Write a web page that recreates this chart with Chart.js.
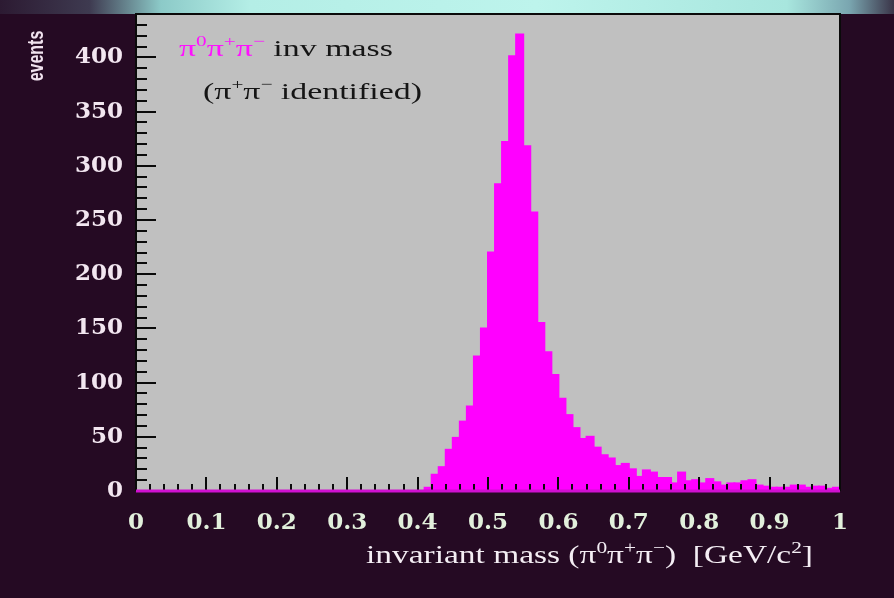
<!DOCTYPE html>
<html>
<head>
<meta charset="utf-8">
<script src="https://cdn.jsdelivr.net/npm/chart.js@4"></script>
<style>
html,body{margin:0;padding:0;background:#250a23;}
#wrap{width:894px;height:598px;position:relative;}
canvas{display:block;}
</style>
</head>
<body>
<div id="wrap"><canvas id="c" width="894" height="598"></canvas></div>
<script>
// ---- data ----
const massBins = [
  0.005,0.015,0.025,0.035,0.045,0.055,0.065,0.075,0.085,0.095,
  0.105,0.115,0.125,0.135,0.145,0.155,0.165,0.175,0.185,0.195,
  0.205,0.215,0.225,0.235,0.245,0.255,0.265,0.275,0.285,0.295,
  0.305,0.315,0.325,0.335,0.345,0.355,0.365,0.375,0.385,0.395,
  0.405,0.415,0.425,0.435,0.445,0.455,0.465,0.475,0.485,0.495,
  0.505,0.515,0.525,0.535,0.545,0.555,0.565,0.575,0.585,0.595,
  0.605,0.615,0.625,0.635,0.645,0.655,0.665,0.675,0.685,0.695,
  0.705,0.715,0.725,0.735,0.745,0.755,0.765,0.775,0.785,0.795,
  0.805,0.815,0.825,0.835,0.845,0.855,0.865,0.875,0.885,0.895,
  0.905,0.915,0.925,0.935,0.945,0.955,0.965,0.975,0.985,0.995
];
const events = [
  0,0,0,0,0,0,0,0,0,0,
  0,0,0,0,0,0,0,0,0,0,
  0,0,0,0,0,0,0,0,0,0,
  0,0,0,0,0,0,0,0,0,0,
  0,3,15,22,38,49,64,78,124,150,
  220,283,322,401,421,318,257,155,128,107,
  85,70,58,48,50,40,33,30,23,25,
  20,13,19,17,12,12,7,17,9,10,
  7,11,8,5,7,7,9,10,5,4,
  3,3,3,5,5,3,4,4,2,3
];
const xTickValues = [0,0.1,0.2,0.3,0.4,0.5,0.6,0.7,0.8,0.9,1];
const xTickLabels = ['0','0.1','0.2','0.3','0.4','0.5','0.6','0.7','0.8','0.9','1'];
const yTickValues = [0,50,100,150,200,250,300,350,400];
const yTickLabels = ['0','50','100','150','200','250','300','350','400'];
const yAxisTitle = 'events';
const annotLine1 = [
  {t:'\u03c0', c:'#ff10ff'}, {t:'0', c:'#ff10ff', sup:true},
  {t:'\u03c0', c:'#ff10ff'}, {t:'+', c:'#ff10ff', sup:true},
  {t:'\u03c0', c:'#ff10ff'}, {t:'\u2212', c:'#ff10ff', sup:true},
  {t:' inv mass', c:'#151515'}
];
const annotLine2 = [
  {t:'(\u03c0', c:'#151515'}, {t:'+', c:'#151515', sup:true},
  {t:'\u03c0', c:'#151515'}, {t:'\u2212', c:'#151515', sup:true},
  {t:' identified)', c:'#151515'}
];
const xAxisTitle = [
  {t:'invariant mass (\u03c0', c:'#f4eef4'}, {t:'0', c:'#f4eef4', sup:true},
  {t:'\u03c0', c:'#f4eef4'}, {t:'+', c:'#f4eef4', sup:true},
  {t:'\u03c0', c:'#f4eef4'}, {t:'\u2212', c:'#f4eef4', sup:true},
  {t:')  [GeV/c', c:'#f4eef4'}, {t:'2', c:'#f4eef4', sup:true},
  {t:']', c:'#f4eef4'}
];

function drawRich(ctx, segs, x, baseline, size, family, targetWidth) {
  let w = 0;
  const supSize = Math.round(size * 0.62);
  for (const s of segs) {
    ctx.font = (s.sup ? supSize : size) + 'px ' + family;
    s.w = ctx.measureText(s.t).width;
    w += s.w;
  }
  const sx = targetWidth / w;
  ctx.save();
  ctx.translate(x, baseline);
  ctx.scale(sx, 1);
  ctx.textAlign = 'left';
  ctx.textBaseline = 'alphabetic';
  let cx = 0;
  for (const s of segs) {
    ctx.font = (s.sup ? supSize : size) + 'px ' + family;
    ctx.fillStyle = s.c;
    ctx.fillText(s.t, cx, s.sup ? -size * 0.42 : 0);
    cx += s.w;
  }
  ctx.restore();
}

const bgPlugin = {
  id: 'bg',
  beforeDraw(chart) {
    const {ctx, width, height, chartArea: a} = chart;
    ctx.save();
    ctx.fillStyle = '#250a23';
    ctx.fillRect(0, 0, width, height);
    const g = ctx.createLinearGradient(0, 0, width, 0);
    g.addColorStop(0, '#2c1a32');
    g.addColorStop(0.1, '#3e3a50');
    g.addColorStop(0.18, '#8ccac8');
    g.addColorStop(0.28, '#b4eee6');
    g.addColorStop(0.6, '#bdf4ec');
    g.addColorStop(0.88, '#a8e6de');
    g.addColorStop(0.95, '#7aa6b0');
    g.addColorStop(1, '#3a3448');
    ctx.fillStyle = g;
    ctx.fillRect(0, 0, width, a.top);
    ctx.fillStyle = '#c0c0c0';
    ctx.fillRect(a.left, a.top, a.right - a.left, a.bottom - a.top);
    ctx.restore();
  }
};

const framePlugin = {
  id: 'frame',
  afterDatasetsDraw(chart) {
    const {ctx, chartArea: a, scales} = chart;
    const xs = scales.x, ys = scales.y;
    ctx.save();
    ctx.strokeStyle = '#0a0a0a';
    ctx.lineWidth = 2;
    ctx.beginPath();
    // y ticks: minor every 10, major every 50
    for (let k = 0; k <= 44; k++) {
      const py = Math.round(ys.getPixelForValue(k * 10));
      const len = (k % 5 === 0) ? 20 : 11;
      ctx.moveTo(a.left, py);
      ctx.lineTo(a.left + len, py);
    }
    // x ticks: minor every 0.02, major every 0.1
    for (let k = 0; k <= 50; k++) {
      const px = Math.round(xs.getPixelForValue(k * 0.02));
      const len = (k % 5 === 0) ? 14 : 7;
      ctx.moveTo(px, a.bottom);
      ctx.lineTo(px, a.bottom - len);
    }
    ctx.stroke();
    // frame
    ctx.beginPath();
    ctx.moveTo(a.left, a.bottom);
    ctx.lineTo(a.left, a.top);
    ctx.lineTo(a.right, a.top);
    ctx.lineTo(a.right, a.bottom);
    ctx.stroke();
    // baseline
    ctx.strokeStyle = '#d010d0';
    ctx.lineWidth = 3;
    ctx.beginPath();
    ctx.moveTo(a.left, a.bottom);
    ctx.lineTo(a.right, a.bottom);
    ctx.stroke();
    ctx.restore();
  },
  afterDraw(chart) {
    const {ctx} = chart;
    ctx.save();
    drawRich(ctx, annotLine1, 179, 56, 24, '"Liberation Serif", serif', 214);
    drawRich(ctx, annotLine2, 203, 99, 24, '"Liberation Serif", serif', 219);
    drawRich(ctx, xAxisTitle, 366, 563, 25, '"Liberation Serif", serif', 447);
    ctx.translate(37, 56);
    ctx.rotate(-Math.PI / 2);
    ctx.scale(1, 1.35);
    ctx.font = 'bold 16px "Liberation Sans", sans-serif';
    ctx.fillStyle = '#f0e2ee';
    ctx.textAlign = 'center';
    ctx.textBaseline = 'middle';
    ctx.fillText(yAxisTitle, 0, 0);
    ctx.restore();
  }
};

const tickFont = {family: '"DejaVu Serif", serif', size: 23, weight: 'bold'};

new Chart(document.getElementById('c'), {
  type: 'bar',
  data: {
    datasets: [{
      data: massBins.map((m, i) => ({x: m, y: events[i]})),
      backgroundColor: '#ff00ff',
      borderWidth: 0,
      inflateAmount: 1,
      barPercentage: 1,
      categoryPercentage: 1
    }]
  },
  options: {
    responsive: false,
    animation: false,
    devicePixelRatio: 1,
    layout: {padding: {top: 14, right: 54, left: 0, bottom: 0}},
    plugins: {legend: {display: false}, tooltip: {enabled: false}},
    scales: {
      x: {
        type: 'linear', min: 0, max: 1, offset: false,
        grid: {display: false, drawTicks: false},
        border: {display: false},
        afterBuildTicks: s => { s.ticks = xTickValues.map(v => ({value: v})); },
        afterFit: s => { s.height = 107; s.paddingLeft = 0; s.paddingRight = 0; },
        ticks: {
          autoSkip: false, maxRotation: 0, padding: 18,
          color: '#e2f0dc', font: tickFont,
          callback: (v, i) => xTickLabels[i]
        }
      },
      y: {
        min: 0, max: 440,
        grid: {display: false, drawTicks: false},
        border: {display: false},
        afterBuildTicks: s => { s.ticks = yTickValues.map(v => ({value: v})); },
        afterFit: s => { s.width = 136; s.paddingTop = 0; s.paddingBottom = 0; },
        ticks: {
          padding: 13, color: '#f2e6f0', font: tickFont,
          callback: (v, i) => yTickLabels[i]
        }
      }
    }
  },
  plugins: [bgPlugin, framePlugin]
});
</script>
</body>
</html>
